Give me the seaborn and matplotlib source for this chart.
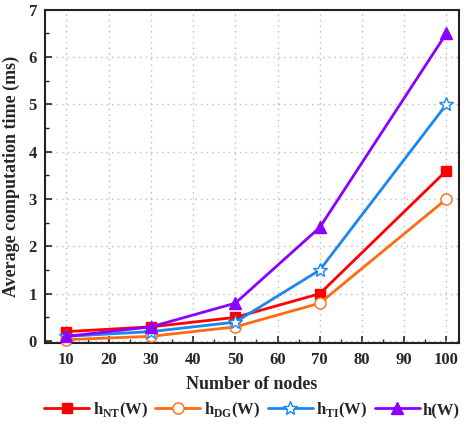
import matplotlib
matplotlib.use("Agg")
import matplotlib.pyplot as plt
import seaborn as sns
import pandas as pd
from matplotlib.ticker import MultipleLocator

# Data
nodes = [10, 30, 50, 70, 100]
h_nt = [0.2, 0.3, 0.5, 1.0, 3.6]
h_dg = [0.03, 0.1, 0.3, 0.8, 3.0]
h_ti = [0.1, 0.2, 0.4, 1.5, 5.0]
h_w = [0.1, 0.3, 0.8, 2.4, 6.5]

labels = [r'h$_{\mathbf{NT}}$(W)', r'h$_{\mathbf{DG}}$(W)', r'h$_{\mathbf{TI}}$(W)', 'h(W)']
colors = ['#FF0000', '#FF6A13', '#1A86F0', '#8C00FF']
markers = ['s', 'o', '*', '^']
sizes = [7.5, 8, 10, 9]
fills = [True, False, False, True]

sns.set_style("ticks")
plt.rcParams['font.family'] = ['Liberation Serif', 'DejaVu Serif']
plt.rcParams['font.weight'] = 'bold'
plt.rcParams['mathtext.fontset'] = 'custom'
plt.rcParams['mathtext.rm'] = 'Liberation Serif:bold'
plt.rcParams['mathtext.bf'] = 'Liberation Serif:bold'

fig, ax = plt.subplots(figsize=(4.67, 4.24), dpi=100)

series = [h_nt, h_dg, h_ti, h_w]
for vals, lab, c, m, s, f in zip(series, labels, colors, markers, sizes, fills):
    df = pd.DataFrame({'Number of nodes': nodes, 'time': vals})
    sns.lineplot(data=df, x='Number of nodes', y='time', ax=ax, color=c, lw=2,
                 marker=m, markersize=s, markeredgecolor=c,
                 markerfacecolor=c if f else 'white', markeredgewidth=1,
                 label=lab, clip_on=False, zorder=3)

ax.set_xlim(5, 103)
ax.set_ylim(-0.05, 7)
ax.xaxis.set_major_locator(MultipleLocator(10))
ax.xaxis.set_minor_locator(MultipleLocator(5))
ax.yaxis.set_major_locator(MultipleLocator(1))
ax.yaxis.set_minor_locator(MultipleLocator(0.5))
ax.tick_params(which='both', direction='in', top=False, right=False, labelsize=12)
ax.tick_params(which='major', length=5, width=1.2, pad=6)
ax.tick_params(which='minor', length=3, width=1)
ax.grid(True, which='major', linestyle=(0, (1, 3)), color='#BBBBBB', lw=1)
for sp in ax.spines.values():
    sp.set_linewidth(1.5)
    sp.set_color('#222222')
    sp.set_visible(True)

ax.set_xlabel('Number of nodes', fontsize=13, fontweight='bold', labelpad=6)
ax.set_ylabel('Average computation time (ms)', fontsize=13, fontweight='bold', labelpad=6)

handles, labs = ax.get_legend_handles_labels()
ax.get_legend().remove()
fig.legend(handles, labs, loc='center', bbox_to_anchor=(0.54, 0.033), ncol=4, frameon=False,
           handlelength=2.7, columnspacing=0.45, handletextpad=0.2, borderpad=0.1,
           prop={'weight': 'bold', 'size': 12})

plt.subplots_adjust(left=0.097, right=0.983, top=0.977, bottom=0.19)
plt.savefig('out.png', dpi=100)
